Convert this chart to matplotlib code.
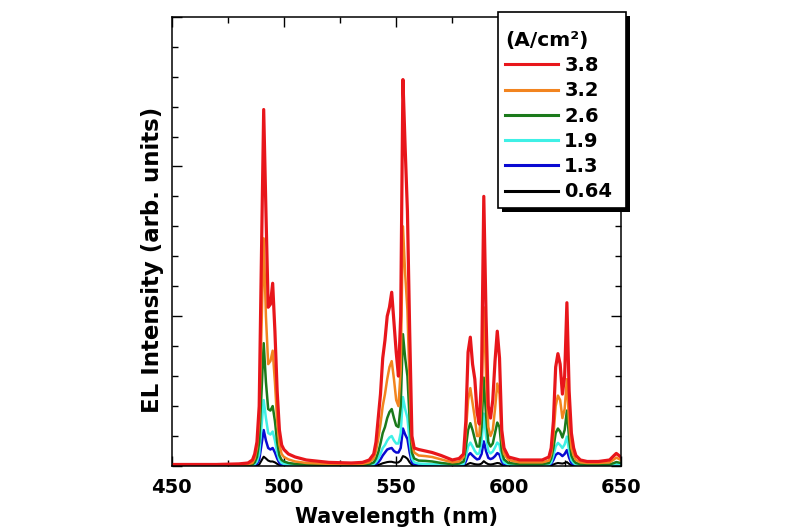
import matplotlib
matplotlib.use("Agg")
import matplotlib.pyplot as plt
from matplotlib.ticker import MultipleLocator
from matplotlib.lines import Line2D
from matplotlib.patches import Rectangle

plt.rcParams['font.family'] = ['DejaVu Sans']
plt.rcParams['font.weight'] = 'bold'

# wavelength grid (nm)
wavelength = [450, 460, 470, 480, 484, 486,
              487, 488, 489, 490, 491, 492, 493, 494, 495, 496, 497, 498, 499, 500,
              502, 505, 510, 520, 530, 535, 538,
              540, 541, 542, 543, 544, 545, 546, 547, 548, 549, 550, 551, 552, 553, 554, 555, 556, 557, 558,
              560, 563, 566, 570, 575, 578,
              580, 581, 582, 583, 584, 585, 586, 587, 588, 589, 590, 591, 592, 593, 594, 595, 596, 597, 598,
              600, 605, 610, 615, 618,
              619, 620, 621, 622, 623, 624, 625, 626, 627, 628, 629, 630,
              632, 635, 640, 645, 647, 648, 650]

labels = ['3.8', '3.2', '2.6', '1.9', '1.3', '0.64']
colors = ['#e8161b', '#f2841f', '#1b7a1b', '#3ff0e6', '#0a0ad2', '#000000']

i_38 = [0.05, 0.05, 0.05, 0.07, 0.10, 0.20,
        0.40, 0.80, 2.00, 7.00, 11.90, 8.50, 5.30, 5.40, 6.10, 4.50, 2.50, 1.20, 0.70, 0.55,
        0.40, 0.30, 0.20, 0.12, 0.10, 0.12, 0.20,
        0.40, 0.80, 1.60, 2.40, 3.60, 4.20, 5.00, 5.30, 5.80, 4.80, 3.80, 3.00, 5.00, 12.90, 10.60, 8.50, 4.50, 1.00, 0.60,
        0.55, 0.50, 0.45, 0.35, 0.20, 0.25,
        0.40, 1.50, 3.80, 4.30, 3.40, 2.90, 1.80, 1.40, 3.00, 9.00, 5.00, 2.00, 1.60, 2.20, 3.50, 4.50, 3.60, 1.20, 0.60,
        0.30, 0.20, 0.20, 0.20, 0.30,
        0.60, 1.50, 3.30, 3.75, 3.40, 2.40, 3.00, 5.45, 2.50, 1.10, 0.60, 0.35,
        0.20, 0.15, 0.15, 0.20, 0.35, 0.42, 0.30]

i_32 = [0.03, 0.03, 0.03, 0.04, 0.06, 0.10,
        0.25, 0.60, 1.50, 4.50, 7.60, 5.00, 3.40, 3.50, 3.85, 2.80, 1.50, 0.70, 0.40, 0.30,
        0.22, 0.15, 0.10, 0.07, 0.06, 0.07, 0.12,
        0.25, 0.50, 0.90, 1.40, 2.00, 2.40, 2.90, 3.30, 3.50, 2.90, 2.20, 2.00, 3.20, 8.00, 6.40, 5.20, 2.60, 0.80, 0.45,
        0.35, 0.33, 0.30, 0.22, 0.12, 0.15,
        0.30, 1.10, 2.20, 2.60, 2.10, 1.60, 1.00, 1.00, 2.20, 5.30, 3.00, 1.30, 1.00, 1.20, 1.90, 2.75, 2.40, 0.90, 0.40,
        0.20, 0.12, 0.12, 0.12, 0.18,
        0.40, 1.00, 2.00, 2.35, 2.20, 1.60, 1.90, 2.90, 1.40, 0.60, 0.35, 0.20,
        0.12, 0.10, 0.10, 0.12, 0.22, 0.28, 0.20]

i_26 = [0.02, 0.02, 0.02, 0.03, 0.04, 0.05,
        0.12, 0.30, 0.80, 2.40, 4.10, 2.80, 1.90, 1.85, 2.00, 1.50, 0.80, 0.35, 0.20, 0.15,
        0.10, 0.07, 0.05, 0.03, 0.03, 0.04, 0.06,
        0.12, 0.25, 0.45, 0.75, 1.10, 1.30, 1.60, 1.80, 1.90, 1.60, 1.35, 1.30, 2.00, 4.40, 3.60, 3.00, 1.50, 0.45, 0.25,
        0.18, 0.17, 0.15, 0.10, 0.06, 0.08,
        0.15, 0.60, 1.20, 1.43, 1.20, 0.90, 0.65, 0.65, 1.30, 2.95, 1.70, 0.80, 0.65, 0.75, 1.10, 1.45, 1.30, 0.50, 0.22,
        0.10, 0.06, 0.06, 0.06, 0.10,
        0.25, 0.60, 1.10, 1.25, 1.15, 0.95, 1.20, 1.85, 0.90, 0.35, 0.18, 0.10,
        0.06, 0.05, 0.05, 0.05, 0.10, 0.13, 0.10]

i_19 = [0.02, 0.02, 0.02, 0.02, 0.03, 0.03,
        0.06, 0.15, 0.40, 1.30, 2.20, 1.60, 1.10, 1.05, 1.15, 0.85, 0.45, 0.20, 0.10, 0.07,
        0.05, 0.04, 0.03, 0.02, 0.02, 0.02, 0.03,
        0.06, 0.13, 0.25, 0.40, 0.60, 0.70, 0.85, 0.95, 1.00, 0.85, 0.75, 0.75, 1.10, 2.30, 1.90, 1.60, 0.80, 0.25, 0.12,
        0.08, 0.07, 0.06, 0.05, 0.04, 0.05,
        0.07, 0.30, 0.65, 0.78, 0.65, 0.50, 0.40, 0.42, 0.80, 1.75, 1.00, 0.50, 0.42, 0.48, 0.62, 0.78, 0.70, 0.28, 0.12,
        0.05, 0.03, 0.03, 0.03, 0.05,
        0.12, 0.35, 0.65, 0.77, 0.70, 0.60, 0.72, 0.98, 0.50, 0.20, 0.10, 0.05,
        0.03, 0.03, 0.03, 0.03, 0.05, 0.06, 0.05]

i_13 = [0.01, 0.01, 0.01, 0.01, 0.02, 0.02,
        0.03, 0.08, 0.20, 0.70, 1.20, 0.85, 0.60, 0.55, 0.60, 0.45, 0.25, 0.10, 0.05, 0.04,
        0.03, 0.02, 0.02, 0.01, 0.01, 0.01, 0.02,
        0.04, 0.07, 0.12, 0.22, 0.35, 0.45, 0.55, 0.58, 0.60, 0.50, 0.45, 0.45, 0.60, 1.25, 1.05, 0.90, 0.45, 0.12, 0.06,
        0.04, 0.04, 0.03, 0.03, 0.02, 0.03,
        0.04, 0.15, 0.35, 0.43, 0.35, 0.28, 0.22, 0.24, 0.40, 0.82, 0.50, 0.27, 0.23, 0.26, 0.33, 0.43, 0.38, 0.15, 0.06,
        0.03, 0.02, 0.02, 0.02, 0.03,
        0.07, 0.20, 0.37, 0.43, 0.40, 0.33, 0.40, 0.53, 0.27, 0.10, 0.05, 0.03,
        0.02, 0.02, 0.02, 0.02, 0.03, 0.03, 0.03]

i_064 = [0.01, 0.01, 0.01, 0.01, 0.01, 0.01,
         0.01, 0.02, 0.05, 0.18, 0.31, 0.25, 0.18, 0.15, 0.15, 0.12, 0.07, 0.03, 0.02, 0.01,
         0.01, 0.01, 0.01, 0.01, 0.01, 0.01, 0.01,
         0.01, 0.02, 0.03, 0.06, 0.09, 0.11, 0.13, 0.14, 0.14, 0.12, 0.11, 0.12, 0.18, 0.33, 0.30, 0.24, 0.12, 0.04, 0.02,
         0.01, 0.01, 0.01, 0.01, 0.01, 0.01,
         0.01, 0.03, 0.07, 0.10, 0.08, 0.06, 0.05, 0.05, 0.08, 0.16, 0.10, 0.06, 0.05, 0.06, 0.08, 0.10, 0.09, 0.04, 0.02,
         0.01, 0.01, 0.01, 0.01, 0.01,
         0.02, 0.05, 0.08, 0.10, 0.09, 0.08, 0.10, 0.13, 0.07, 0.03, 0.02, 0.01,
         0.01, 0.01, 0.01, 0.01, 0.01, 0.01, 0.01]

series = [i_38, i_32, i_26, i_19, i_13, i_064]
widths = [2.3, 1.8, 1.8, 1.8, 1.8, 1.5]

W, H = 800, 530
fig = plt.figure(figsize=(8, 5.3), dpi=100)
ax = fig.add_axes([0.2145, 0.1208, 0.5615, 0.8477])

for k in reversed(range(len(series))):
    ax.plot(wavelength, series[k], color=colors[k], lw=widths[k], label=labels[k])

ax.set_xlim(450, 650)
ax.set_ylim(0, 15)
ax.xaxis.set_major_locator(MultipleLocator(50))
ax.xaxis.set_minor_locator(MultipleLocator(25))
ax.yaxis.set_major_locator(MultipleLocator(5))
ax.yaxis.set_minor_locator(MultipleLocator(1))
ax.tick_params(which='both', direction='in', top=True, right=True, width=1.0)
ax.tick_params(which='major', length=7)
ax.tick_params(which='minor', length=4.5)
ax.tick_params(axis='x', which='major', labelsize=14, pad=8.5)
ax.tick_params(axis='y', labelleft=False)
for lab in ax.get_xticklabels():
    lab.set_fontweight('bold')
for s in ax.spines.values():
    s.set_linewidth(1.1)

ax.set_xlabel('Wavelength (nm)', fontsize=15, fontweight='bold', labelpad=7)
ax.set_ylabel('EL Intensity (arb. units)', fontsize=16.5, fontweight='bold')
ax.yaxis.set_label_coords(-0.016, 0.4585)

# legend frame + shadow drawn as figure patches
bx0, bx1, by0, by1 = 498, 626, 12, 208
shadow = Rectangle(((bx0 + 4) / W, 1 - (by1 + 4) / H), (bx1 - bx0) / W, (by1 - by0) / H,
                   transform=fig.transFigure, facecolor='black', edgecolor='black', lw=0, zorder=3)
frame = Rectangle((bx0 / W, 1 - by1 / H), (bx1 - bx0) / W, (by1 - by0) / H,
                  transform=fig.transFigure, facecolor='white', edgecolor='black', lw=1.2, zorder=4)
fig.add_artist(shadow)
fig.add_artist(frame)

leg_handles = [Line2D([], [], color=c, lw=2.2) for c in colors]
leg = fig.legend(handles=leg_handles, labels=labels, title='(A/cm²)',
                 loc='upper left', bbox_to_anchor=(505 / W, 1 - 31 / H),
                 bbox_transform=fig.transFigure, borderaxespad=0,
                 prop={'size': 14, 'weight': 'bold'},
                 title_fontproperties={'size': 14.5, 'weight': 'bold'},
                 alignment='left', handlelength=2.7, handletextpad=0.35,
                 labelspacing=0.32, borderpad=0, frameon=False)
leg.set_zorder(6)

fig.savefig('out.png', dpi=100)
